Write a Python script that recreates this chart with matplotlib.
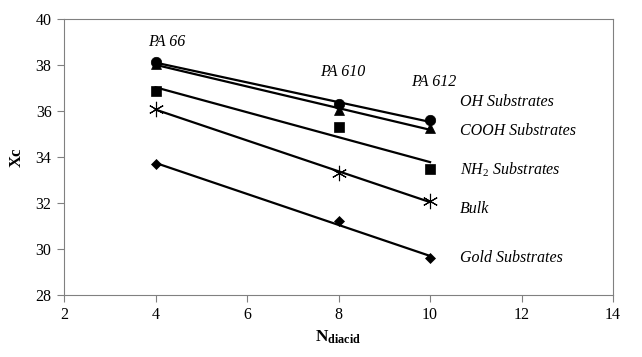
import numpy as np
import matplotlib
matplotlib.use('Agg')
import matplotlib.pyplot as plt

plt.rcParams['font.family'] = 'Liberation Serif'
plt.rcParams['mathtext.fontset'] = 'custom'
plt.rcParams['mathtext.rm'] = 'Liberation Serif'
plt.rcParams['mathtext.it'] = 'Liberation Serif:italic'
plt.rcParams['mathtext.bf'] = 'Liberation Serif:bold'

# Данные
n_diacid = [4, 8, 10]
oh = [38.15, 36.3, 35.6]
cooh = [38.05, 36.05, 35.25]
nh2 = [36.9, 35.3, 33.5]
bulk = [36.1, 33.3, 32.1]
gold = [33.7, 31.2, 29.6]

series_names = ['OH Substrates', 'COOH Substrates', 'NH$_2$ Substrates', 'Bulk', 'Gold Substrates']
polymer_labels = ['PA 66', 'PA 610', 'PA 612']

series = [oh, cooh, nh2, bulk, gold]
markers = ['o', '^', 's', (6, 2, 0), 'D']
msizes = [7.5, 7.5, 7, 11, 5.5]
label_pos = [(10.66, 36.4), (10.66, 35.13), (10.66, 33.44), (10.66, 31.74), (10.66, 29.6)]
poly_pos = [(4.25, 39.0), (8.1, 37.7), (10.07, 37.27)]

fig = plt.figure(figsize=(6.42, 3.57), dpi=100)
ax = fig.add_axes([0.0997, 0.1737, 0.8553, 0.772])

for ys, m, ms, name, pos in zip(series, markers, msizes, series_names, label_pos):
    # линия тренда
    a, b = np.polyfit(n_diacid, ys, 1)
    xl = np.array([n_diacid[0], n_diacid[-1]])
    ax.plot(xl, a * xl + b, color='black', lw=1.6, zorder=2)
    ax.plot(n_diacid, ys, linestyle='none', marker=m, markersize=ms,
            color='black', markeredgewidth=0.8 if m == (6, 2, 0) else 0.5, zorder=3)
    ax.text(pos[0], pos[1], name, fontsize=11.5, style='italic', va='center', ha='left')

for lab, pos in zip(polymer_labels, poly_pos):
    ax.text(pos[0], pos[1], lab, fontsize=11.5, style='italic', ha='center', va='center')

ax.set_xlim(2, 14)
ax.set_ylim(28, 40)
ax.set_xticks(range(2, 15, 2))
ax.set_yticks(range(28, 41, 2))
ax.tick_params(colors='#808080', labelcolor='black', labelsize=11.5, length=5, width=0.8, pad=4)
for s in ax.spines.values():
    s.set_color('#808080')
    s.set_linewidth(0.8)

ax.set_xlabel(r'$\mathbf{N_{diacid}}$', fontsize=12.5, labelpad=4)
ax.set_ylabel('Xc', fontsize=12, fontweight='bold', labelpad=8)

plt.savefig('out.png', dpi=100)
plt.close()
